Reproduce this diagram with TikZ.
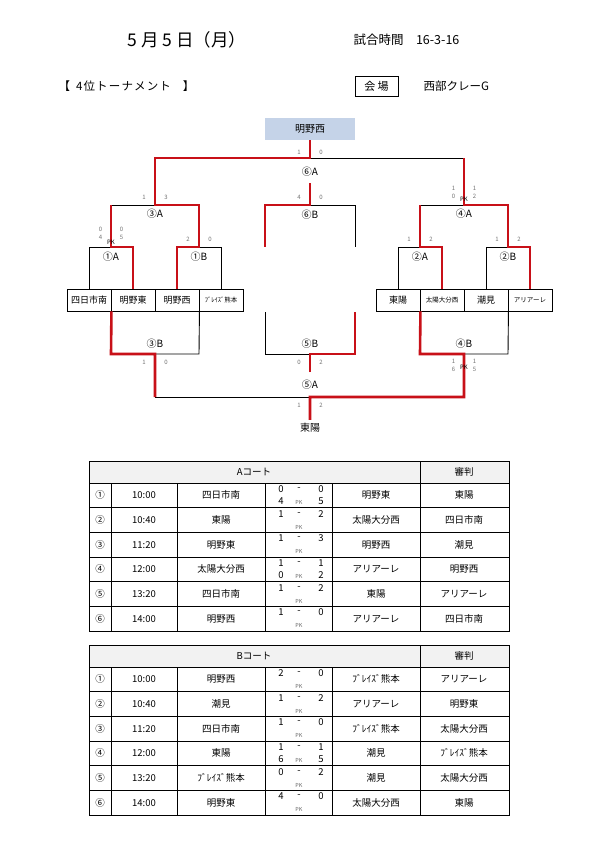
\documentclass[tikz,border=0pt]{standalone}
\usepackage{fontspec}
\setmainfont{Noto Sans CJK JP}
\definecolor{winred}{RGB}{200,16,24}
\definecolor{topfill}{RGB}{197,211,232}
\definecolor{headfill}{RGB}{242,242,242}
\newcommand\fs[1]{\fontsize{#1}{#1}\selectfont}
% one row block of a court table: #1 top of first row, #2 prefix, #3 rows
\newcommand\courtrows[3]{%
  \foreach \c/\t/\a/\l/\r/\p/\q/\b/\j [count=\i] in {#3}{
    \pgfmathsetmacro\y{#1+(\i-1)*24.67}
    \node[cell] (#2\i n) at (100,\y+12.3) {\c};
    \node[cell] (#2\i t) at (144,\y+12.3) {\t};
    \node[cell] (#2\i a) at (221,\y+12.3) {\a};
    \node[cell] (#2\i l) at (281,\y+6) {\l};
    \node[cell] (#2\i d) at (299,\y+6) {-};
    \node[cell] (#2\i r) at (321,\y+6) {\r};
    \node[cell] (#2\i p) at (281,\y+18.5) {\p};
    \node[pk] (#2\i k) at (299,\y+19.5) {PK};
    \node[cell] (#2\i q) at (321,\y+18.5) {\q};
    \node[cell] (#2\i b) at (376,\y+12.3) {\b};
    \node[cell] (#2\i j) at (464,\y+12.3) {\j};
  }}
\begin{document}
\begin{tikzpicture}[x=1pt,y=-1pt,
    win/.style={draw=winred,line width=2.6pt,line join=miter},
    lose/.style={draw=black,line width=0.9pt},
    team/.style={draw,line width=0.9pt,minimum width=44pt,minimum height=22pt,inner sep=0pt,font=\fs{9}},
    small/.style={font=\fs{6.5}},
    mlabel/.style={inner sep=1pt,font=\fs{10}},
    sc/.style={inner sep=0pt,text=black!55,font=\fs{6}},
    pkb/.style={inner sep=0pt,font=\fs{6}},
    cell/.style={inner sep=0pt,font=\fs{9.5}},
    pk/.style={inner sep=0pt,text=black!60,font=\fs{5.5}},
    tline/.style={line width=0.9pt},
  ]
\fill[white] (0,0) rectangle (595,841);
\useasboundingbox (0,0) rectangle (595,841);

% heading
\node[font=\fs{17.5}] (day) at (187,40) {5 月 5 日（月）};
\node[anchor=west,font=\fs{12.5}] (time) at (350,40) {試合時間　16-3-16};
\node[anchor=west,font=\fs{11.5}] (kind) at (55,86) {【\hspace{6pt}\addfontfeature{LetterSpace=10}4位トーナメント\hspace{12pt}】};
\node[draw,line width=0.9pt,minimum width=43pt,minimum height=20pt,inner sep=0pt,font=\fs{11}] (venue) at (376.5,86) {会 場};
\node[anchor=west,font=\fs{11.5}] (place) at (420,86) {西部クレーG};

% teams
\node[fill=topfill,minimum width=90pt,minimum height=22pt,inner sep=0pt,font=\fs{10}] (champ) at (310,129) {明野西};
\node[team] (t1) at (89,300) {四日市南};
\node[team] (t2) at (133,300) {明野東};
\node[team] (t3) at (177,300) {明野西};
\node[team,small] (t4) at (221,300) {ﾌﾞﾚｲｽﾞ熊本};
\node[team] (t5) at (398,300) {東陽};
\node[team,small] (t6) at (442,300) {太陽大分西};
\node[team] (t7) at (486,300) {潮見};
\node[team,small] (t8) at (530,300) {アリアーレ};
\node[font=\fs{10}] (third) at (310,428) {東陽};

% bracket, losing sides
\draw[lose] (310,158) -- (464,158);
\draw[lose] (111,205) -- (155,205);
\draw[lose] (t1.north) -- (89,247) -- (111,247);
\draw[lose] (199,247) -- (221,247) -- (t4.north);
\draw[lose] (420,205) -- (464,205);
\draw[lose] (t5.north) -- (398,247) -- (420,247);
\draw[lose] (t7.north) -- (486,247) -- (508,247);
\draw[lose] (310,205) -- (355,205) -- (355,247);
\draw[lose] (155,354) -- (199,354) -- (t3.south east);
\draw[lose] (265,312) -- (265,354) -- (310,354);
\draw[lose] (464,354) -- (508,354) -- (t7.south east);
\draw[lose] (155,397) -- (310,397);

% bracket, winning sides
\draw[win] (champ.south) -- (310,158) -- (155,158) -- (155,205) -- (199,205) -- (199,247) -- (177,247) -- (t3.north);
\draw[win] (111,205) -- (111,247) -- (133,247) -- (t2.north);
\draw[win] (464,158) -- (464,205) -- (508,205) -- (508,247) -- (530,247) -- (t8.north);
\draw[win] (420,205) -- (420,247) -- (442,247) -- (t6.north);
\draw[win] (310,183) -- (310,205) -- (265,205) -- (265,247);
\draw[win] (t1.south east) -- (111,354) -- (155,354) -- (155,397);
\draw[win] (310,372) -- (310,354) -- (355,354) -- (355,312);
\draw[win] (t5.south east) -- (420,354) -- (464,354) -- (464,397) -- (310,397) -- (third.north);

% game labels
\foreach \g/\n/\x/\y in {⑥A/6A/310/172, ⑥B/6B/310/215, ③A/3A/155/214, ①A/1A/111/257, ①B/1B/199/257,
                         ④A/4A/464/214, ②A/2A/420/257, ②B/2B/508/257,
                         ③B/3B/155/344, ⑤B/5B/310/344, ④B/4B/464/344, ⑤A/5A/310/385}
  \node[mlabel] (g\n) at (\x,\y) {\g};

% scores beside each game
\foreach \n/\x/\y/\l/\r in {6A/310/152/1/0, 6B/310/197/4/0, 3A/155/197/1/3, 1B/199/239/2/0,
                            2A/420/239/1/2, 2B/508/239/1/2, 3B/155/362/1/0, 5B/310/362/0/2, 5A/310/405/1/2}{
  \node[sc] (l\n) at (\x-11,\y) {\l};
  \node[sc] (r\n) at (\x+11,\y) {\r};
}
% games settled on penalties
\foreach \n/\x/\y/\l/\r/\p/\q/\k in {1A/111/229/0/0/4/5/242, 4A/464/188/1/1/0/2/199, 4B/464/361/1/1/6/5/367}{
  \node[sc] (l\n) at (\x-10.5,\y) {\l};
  \node[sc] (r\n) at (\x+10.5,\y) {\r};
  \node[sc] (p\n) at (\x-10.5,\y+8.5) {\p};
  \node[sc] (q\n) at (\x+10.5,\y+8.5) {\q};
  \node[pkb] (k\n) at (\x,\k) {PK};
}

% court tables
\foreach \T/\C in {461/A,645/B}{
  \fill[headfill] (89,\T) rectangle (509,\T+22);
  \draw[tline] (89,\T) rectangle (509,\T+170);
  \draw[tline] (420,\T) -- (420,\T+170);
  \foreach \k in {0,...,5} \draw[tline] (89,\T+22+\k*24.67) -- (509,\T+22+\k*24.67);
  \foreach \x in {111,177,265,332} \draw[tline] (\x,\T+22) -- (\x,\T+170);
  \node[cell] (h\C) at (254,\T+11) {\C コート};
  \node[cell] (j\C) at (464,\T+11) {審判};
}
\courtrows{483}{A}{①/10:00/四日市南/0/0/4/5/明野東/東陽,
  ②/10:40/東陽/1/2/{}/{}/太陽大分西/四日市南,
  ③/11:20/明野東/1/3/{}/{}/明野西/潮見,
  ④/12:00/太陽大分西/1/1/0/2/アリアーレ/明野西,
  ⑤/13:20/四日市南/1/2/{}/{}/東陽/アリアーレ,
  ⑥/14:00/明野西/1/0/{}/{}/アリアーレ/四日市南}
\courtrows{667}{B}{①/10:00/明野西/2/0/{}/{}/ﾌﾞﾚｲｽﾞ熊本/アリアーレ,
  ②/10:40/潮見/1/2/{}/{}/アリアーレ/明野東,
  ③/11:20/四日市南/1/0/{}/{}/ﾌﾞﾚｲｽﾞ熊本/太陽大分西,
  ④/12:00/東陽/1/1/6/5/潮見/ﾌﾞﾚｲｽﾞ熊本,
  ⑤/13:20/ﾌﾞﾚｲｽﾞ熊本/0/2/{}/{}/潮見/太陽大分西,
  ⑥/14:00/明野東/4/0/{}/{}/太陽大分西/東陽}
\end{tikzpicture}
\end{document}
